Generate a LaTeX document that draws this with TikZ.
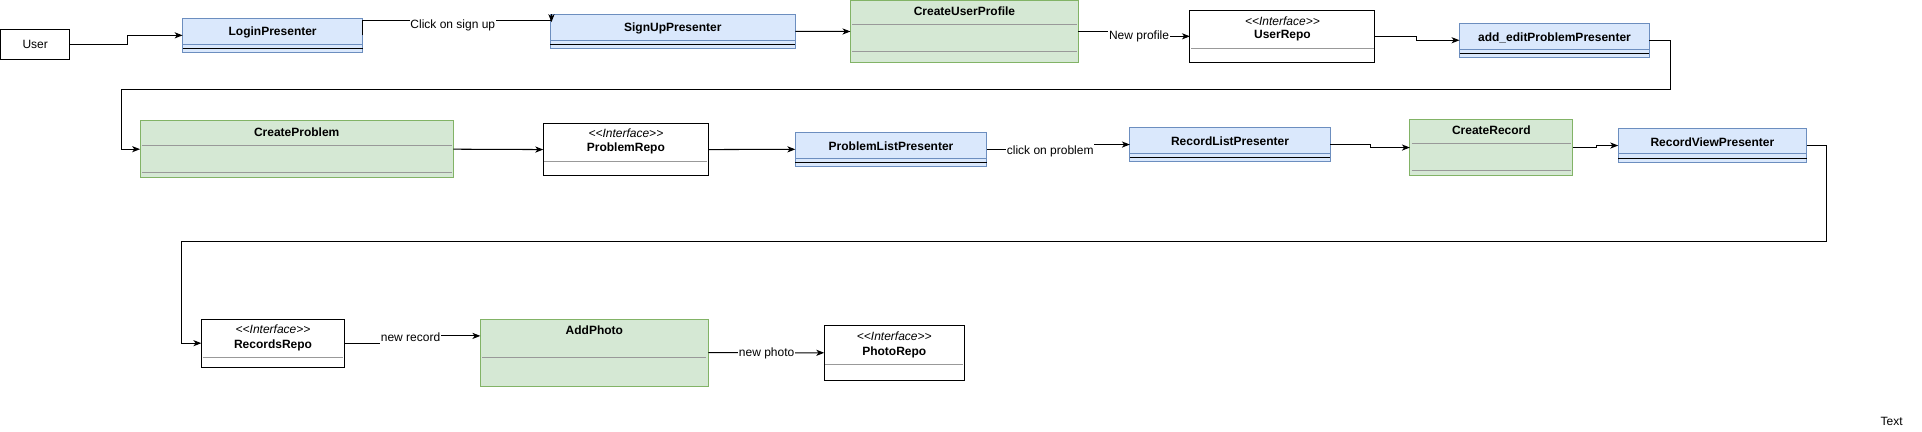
\documentclass[tikz,border=0pt]{standalone}
\usepackage{fontspec}
\setmainfont{Liberation Sans}
\usetikzlibrary{arrows.meta,calc}
\definecolor{bfill}{HTML}{DAE8FC}
\definecolor{bline}{HTML}{6C8EBF}
\definecolor{gfill}{HTML}{D5E8D4}
\definecolor{gline}{HTML}{82B366}
\definecolor{divc}{HTML}{999999}
\begin{document}
\begin{tikzpicture}[x=1pt,y=-1pt,
  every node/.style={font=\fontsize{9.79}{11.5}\selectfont},
  box/.style={draw, rectangle, inner sep=0pt, outer sep=0pt, line width=0.8pt, anchor=north west},
  bluecls/.style={box, draw=bline, fill=bfill, minimum height=27.7},
  greencls/.style={box, draw=gline, fill=gfill},
  ifc/.style={box, draw=black, fill=white},
  ttl/.style={font=\bfseries\fontsize{9.79}{11.5}\selectfont, anchor=base, inner sep=0pt},
  stereo/.style={font=\itshape\fontsize{9.79}{11.5}\selectfont, anchor=base, inner sep=0pt},
  txt/.style={anchor=base, inner sep=0pt},
  lbl/.style={fill=white, inner xsep=0.6pt, inner ysep=2pt, anchor=base},
  conn/.style={line width=0.85pt, draw=black},
  arr/.style={conn, -{Stealth[length=6.5pt,width=5pt,inset=1.8pt]}},
  blueln/.style={draw=bline, line width=0.8pt},
  sepln/.style={draw=black, line width=0.8pt},
  divln/.style={draw=divc, line width=0.8pt},
]
\useasboundingbox (0,0) rectangle (1568.4,352.5);

% ---------- row 1 ----------
\node[ifc, minimum width=56.5, minimum height=24.4] (user) at (0.5,24) {};
\node[txt] (tuser) at (28.75,39.5) {User};

\node[bluecls, minimum width=147] (login) at (149,15) {};
\draw[blueln] (149,36.2) -- (296,36.2);
\draw[sepln] (149,39.5) -- (296,39.5);
\node[ttl] (tlogin) at (222.5,29.3) {LoginPresenter};

\node[bluecls, minimum width=200] (su) at (449,11.7) {};
\draw[blueln] (449,32.9) -- (649,32.9);
\draw[sepln] (449,36.2) -- (649,36.2);
\node[ttl] (tsu) at (549,26.1) {SignUpPresenter};

\node[greencls, minimum width=186, minimum height=50.4] (cup) at (694,0.5) {};
\draw[divln] (695.5,19.9) -- (878.5,19.9);
\draw[divln] (695.5,41.9) -- (878.5,41.9);
\node[ttl] (tcup) at (787,12.5) {CreateUserProfile};

\node[ifc, minimum width=151, minimum height=42.5] (urepo) at (971,8.4) {};
\draw[divln] (972,39.4) -- (1121,39.4);
\node[stereo] (surepo) at (1046.5,20.6) {<{}<Interface>{}>};
\node[ttl] (turepo) at (1046.5,31.8) {UserRepo};

\node[bluecls, minimum width=155] (addedit) at (1191,19) {};
\draw[blueln] (1191,40.2) -- (1346,40.2);
\draw[sepln] (1191,43.5) -- (1346,43.5);
\node[ttl] (taddedit) at (1268.5,33.5) {add\_editProblemPresenter};

% ---------- row 2 ----------
\node[greencls, minimum width=255.7, minimum height=46.5] (cp) at (114.3,98.5) {};
\draw[divln] (115.8,118.6) -- (368.5,118.6);
\draw[divln] (115.8,140.6) -- (368.5,140.6);
\node[ttl] (tcp) at (242.15,111.5) {CreateProblem};

\node[ifc, minimum width=134.9, minimum height=42.7] (prepo) at (443.3,100.7) {};
\draw[divln] (444.3,131.4) -- (577.2,131.4);
\node[stereo] (sprepo) at (510.75,112.3) {<{}<Interface>{}>};
\node[ttl] (tprepo) at (510.75,124) {ProblemRepo};

\node[bluecls, minimum width=156.2] (plp) at (649,108) {};
\draw[blueln] (649,129.2) -- (805.2,129.2);
\draw[sepln] (649,132.5) -- (805.2,132.5);
\node[ttl] (tplp) at (727.1,122.5) {ProblemListPresenter};

\node[bluecls, minimum width=163.5, minimum height=27.5] (rlp) at (922,104.2) {};
\draw[blueln] (922,125.1) -- (1085.5,125.1);
\draw[sepln] (922,128.4) -- (1085.5,128.4);
\node[ttl] (trlp) at (1003.75,118.5) {RecordListPresenter};

\node[greencls, minimum width=133, minimum height=46] (cr) at (1150.5,97.4) {};
\draw[divln] (1152,117) -- (1282,117);
\draw[divln] (1152,139) -- (1282,139);
\node[ttl] (tcr) at (1217,109.6) {CreateRecord};

\node[bluecls, minimum width=153.7, minimum height=27.5] (rvp) at (1320.5,105) {};
\draw[blueln] (1320.5,125.6) -- (1474.2,125.6);
\draw[sepln] (1320.5,129) -- (1474.2,129);
\node[ttl] (trvp) at (1397.35,119.4) {RecordViewPresenter};

% ---------- row 3 ----------
\node[ifc, minimum width=117, minimum height=38.9] (rr) at (164.3,260.6) {};
\draw[divln] (165.3,291.6) -- (280.3,291.6);
\node[stereo] (srr) at (222.8,272.2) {<{}<Interface>{}>};
\node[ttl] (trr) at (222.8,284.2) {RecordsRepo};

\node[greencls, minimum width=186, minimum height=54.4] (ap) at (392,260.6) {};
\draw[divln] (393.5,291.6) -- (576.5,291.6);
\node[ttl] (tap) at (485,272.7) {AddPhoto};

\node[ifc, minimum width=114.3, minimum height=44.4] (phr) at (672.6,265.7) {};
\draw[divln] (673.6,297.3) -- (785.9,297.3);
\node[stereo] (sphr) at (729.75,278.2) {<{}<Interface>{}>};
\node[ttl] (tphr) at (729.75,290.5) {PhotoRepo};

\node[txt] (ttext) at (1543.6,347.5) {Text};

% ---------- connectors ----------
\coordinate (suA) at (450,17.1);
\coordinate (c1) at (1363,72.9);
\coordinate (c2) at (99,72.9);
\coordinate (c3) at (1490.2,196.9);
\coordinate (c4) at (148,196.9);
\coordinate (apin) at (392,274.1);

\draw[arr] (user.east) -- ++(47,0) |- (login.west);
\draw[conn] (login.east) |- (suA);
\draw[arr] ([xshift=1pt]su.north west) -- ++(0,6.4);
\node[lbl] (l1) at (369.5,23.6) {Click on sign up};

\draw[arr] (su.east) -- (cup.west);
\draw[arr] (cup.east) -- ++(49,0) |- (urepo.west);
\node[lbl] (l2) at (929.5,32) {New profile};

\draw[arr] (urepo.east) -- ++(34,0) |- (addedit.west);
\draw[arr] (addedit.east) -| (c1) -- (c2) |- (cp.west);
\draw[arr] (cp.east) -- (prepo.west);
\draw[arr] (prepo.east) -- (plp.west);
\draw[arr] (plp.east) -- ++(52,0) |- (rlp.west);
\node[lbl] (l3) at (857,126.4) {click on problem};

\draw[arr] (rlp.east) -- ++(33,0) |- (cr.west);
\draw[arr] (cr.east) -- ++(19.3,0) |- (rvp.west);
\draw[arr] (rvp.east) -| (c3) -- (c4) |- (rr.west);
\draw[arr] (rr.east) -- ++(54,0) |- (apin);
\node[lbl] (l4) at (335,278.4) {new record};
\draw[arr] (ap.east) -- (phr.west);
\node[lbl] (l5) at (625.6,291) {new photo};
\end{tikzpicture}
\end{document}
